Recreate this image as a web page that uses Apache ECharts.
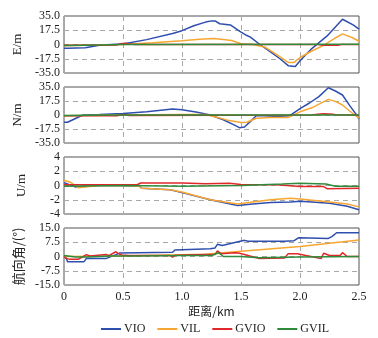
<!DOCTYPE html>
<html><head><meta charset="utf-8">
<script src="https://cdn.jsdelivr.net/npm/echarts@6/dist/echarts.min.js"></script>
<style>html,body{margin:0;padding:0;background:#fff}#c{width:378px;height:338px}</style>
</head><body><div id="c"></div>
<script>
// ---- data (distance km / value) ----
const seriesNames = ['VIO','VIL','GVIO','GVIL'];
const xTicks = [0,0.5,1.0,1.5,2.0,2.5];
const panelNames = ['E/m','N/m','U/m','航向角/(°)'];

// E panel
const E_VIO_x = [0,0.03,0.18,0.3,0.4,0.5,0.7,0.92,1.0,1.1,1.2,1.25,1.28,1.32,1.41,1.49,1.55,1.58,1.66,1.75,1.83,1.9,1.96,2.0,2.1,2.23,2.36,2.45,2.5];
const E_VIO_y = [-4.5,-4.5,-4,-1,0,0.5,6,13.5,17,23,27.5,29,29,25.5,24,16,11,9,0,-9,-17.5,-26,-27,-20,-5,10.5,31,24,19];
const E_VIL_x = [0,0.2,0.35,0.5,0.75,1.0,1.15,1.27,1.35,1.42,1.5,1.6,1.7,1.8,1.9,1.95,2.0,2.1,2.2,2.3,2.36,2.45,2.5];
const E_VIL_y = [-1.5,-1,-0.3,0,2,4.5,6.5,7.5,6,5,1,0,-3,-12,-22,-22,-16,-8,-1,8,13,8,4];
const E_GVIO_x = [0,0.45,0.48,0.52,0.56,0.6,1.0,2.0,2.15,2.2,2.32,2.35,2.5];
const E_GVIO_y = [-1,-0.5,1,1.5,0.5,0,0,0,0,-0.8,-0.8,0,0];
const E_GVIL_x = [0,0.3,0.5,2.5];
const E_GVIL_y = [-1.2,-0.5,0,0.2];

// N panel
const N_VIO_x = [0,0.03,0.16,0.3,0.5,0.7,0.92,1.0,1.13,1.24,1.35,1.45,1.49,1.53,1.58,1.63,1.7,1.8,1.91,1.96,2.0,2.08,2.16,2.24,2.3,2.36,2.42,2.48,2.5];
const N_VIO_y = [-9,-9,0,0.5,2,4,7.5,6.5,3.4,0,-6,-13,-16,-15,-8,-1,-1,-2,-1,4,8,15,23,34,30,25,12,0,-5];
const N_VIL_x = [0,0.5,1.0,1.2,1.3,1.4,1.5,1.55,1.63,1.75,1.9,1.96,2.0,2.1,2.24,2.3,2.36,2.42,2.5];
const N_VIL_y = [-1,0,0.5,0.5,-3,-7,-9.5,-9,-4,-3,-3,1,4,9,19.5,17,12.5,5,-4];
const N_GVIO_x = [0,0.45,0.5,0.55,2.1,2.15,2.2,2.28,2.3,2.5];
const N_GVIO_y = [-1,-1,0.5,-0.5,0,1,1.5,1,0,0];
const N_GVIL_x = [0,0.4,2.5];
const N_GVIL_y = [-0.5,0,0];

// U panel
const U_VIO_x = [0,0.1,0.3,0.5,0.64,0.66,0.9,1.0,1.24,1.47,1.6,1.75,1.92,2.0,2.1,2.25,2.4,2.5];
const U_VIO_y = [0.4,-0.2,0,0,-0.1,-0.4,-0.6,-1.0,-2.0,-2.8,-2.6,-2.4,-2.3,-2.2,-2.3,-2.5,-2.9,-3.4];
const U_VIL_x = [0,0.05,0.12,0.3,0.5,0.64,0.66,0.9,1.0,1.24,1.47,1.6,1.75,1.92,2.0,2.25,2.4,2.5];
const U_VIL_y = [0.7,0.5,-0.3,0,0,-0.1,-0.4,-0.6,-0.9,-2.0,-2.6,-2.3,-2.0,-1.8,-1.9,-2.3,-2.6,-3.0];
const U_GVIO_x = [0,0.3,0.62,0.65,1.0,1.2,1.4,1.5,1.8,2.0,2.2,2.23,2.5];
const U_GVIO_y = [0.1,0.1,0.1,0.35,0.35,0.25,0.3,0.15,0.1,-0.15,-0.15,-0.45,-0.4];
const U_GVIL_x = [0,0.5,1.0,1.5,1.85,2.0,2.22,2.3,2.5];
const U_GVIL_y = [-0.1,0,-0.1,0,0.2,0.3,0.2,-0.1,-0.1];

// Heading panel
const H_VIO_x = [0,0.02,0.03,0.17,0.19,0.36,0.44,0.47,0.92,0.94,1.24,1.28,1.3,1.34,1.53,1.56,1.87,1.95,1.99,2.24,2.27,2.31,2.5];
const H_VIO_y = [0,-1,-2.7,-2.7,-1,-1,1,1.8,2.2,3.4,4.1,4.5,6.4,5.8,8.5,8.0,8,8.3,9.9,9.5,10.5,12.5,12.5];
const H_VIL_x = [0,0.5,1.0,1.2,1.5,2.0,2.5];
const H_VIL_y = [0,0.3,0.9,1.2,2.8,5.2,8.7];
const H_GVIO_x = [0,0.02,0.05,0.12,0.15,0.19,0.22,0.36,0.38,0.44,0.46,0.49,0.55,0.9,0.92,0.94,1.2,1.28,1.3,1.33,1.45,1.48,1.56,1.65,1.87,1.9,1.98,2.05,2.18,2.2,2.25,2.34,2.36,2.4,2.5];
const H_GVIO_y = [0,-1,-1.5,-1.5,-0.5,1,0.3,1,0.5,2.5,1.5,0.8,0.5,0.5,-0.3,0.6,1,1,3,1.5,2,1.8,0.5,-1,-0.8,1.5,1.5,0.5,-1,1.7,0.5,0.5,2,0,0];
const H_GVIL_x = [0,0.1,0.2,0.4,0.6,1.0,1.25,1.31,1.35,1.5,1.65,2.0,2.5];
const H_GVIL_y = [0.5,-0.3,-0.3,0.3,0.2,0.5,0.5,2,0,0,-0.7,-0.3,0];

const yTicksE = [-35,-17.5,0,17.5,35];
const yTicksN = [-35,-17.5,0,17.5,35];
const yTicksU = [-4,-2,0,2,4];
const yTicksH = [-15,-7.5,0,7.5,15];

// ---- build ----
const colors = ['#2f4fae','#f7a731','#e0282a','#2e8b3c'];
const zip = (xs, ys) => xs.map((x,i)=>[x,ys[i]]);
const panels = [
  {ticks:yTicksE, dec:1, data:[[E_VIO_x,E_VIO_y],[E_VIL_x,E_VIL_y],[E_GVIO_x,E_GVIO_y],[E_GVIL_x,E_GVIL_y]]},
  {ticks:yTicksN, dec:1, data:[[N_VIO_x,N_VIO_y],[N_VIL_x,N_VIL_y],[N_GVIO_x,N_GVIO_y],[N_GVIL_x,N_GVIL_y]]},
  {ticks:yTicksU, dec:0, data:[[U_VIO_x,U_VIO_y],[U_VIL_x,U_VIL_y],[U_GVIO_x,U_GVIO_y],[U_GVIL_x,U_GVIL_y]]},
  {ticks:yTicksH, dec:1, data:[[H_VIO_x,H_VIO_y],[H_VIL_x,H_VIL_y],[H_GVIO_x,H_GVIO_y],[H_GVIL_x,H_GVIL_y]]}
];
const tops = [16,87,157,228];
const heights = [57,56,57,57];
const serif = '"Liberation Serif","DejaVu Serif",serif';
const grid=[], xAxis=[], yAxis=[], series=[];
panels.forEach((p,k)=>{
  grid.push({left:64,right:19,top:tops[k],height:heights[k],show:true,borderColor:'#555',borderWidth:1,backgroundColor:'transparent'});
  const last = k===3;
  xAxis.push({type:'value',gridIndex:k,min:0,max:2.5,interval:0.5,
    axisLine:{show:false},axisTick:{show:false},
    axisLabel:{show:last,fontFamily:serif,fontSize:12,color:'#222',margin:6,formatter:v=>v===0?'0':v.toFixed(1)},
    splitLine:{show:true,lineStyle:{color:'#a8a8a8',type:[5,4],width:1}},
    name:last?'距离/km':'',nameLocation:'middle',nameGap:20,
    nameTextStyle:{fontFamily:'"Noto Sans CJK SC",'+serif,fontSize:12,color:'#222'}});
  const t=p.ticks;
  yAxis.push({type:'value',gridIndex:k,min:t[0],max:t[4],interval:t[1]-t[0],
    axisLine:{show:false},axisTick:{show:false},
    axisLabel:{fontFamily:serif,fontSize:12,color:'#222',margin:4,
      formatter:v=>v===0?'0':v.toFixed(p.dec)},
    splitLine:{show:true,lineStyle:{color:'#a8a8a8',type:[5,4],width:1}},
    name:panelNames[k],nameLocation:'middle',nameGap:k===3?33:36,nameRotate:90,
    nameTextStyle:{fontFamily:(k===3?'"Noto Sans CJK SC",':'')+serif,fontSize:13,color:'#222'}});
  p.data.forEach((d,s)=>{
    series.push({name:seriesNames[s],type:'line',xAxisIndex:k,yAxisIndex:k,
      data:zip(d[0],d[1]),showSymbol:false,symbol:'none',
      lineStyle:{width:1.5,color:colors[s]},itemStyle:{color:colors[s]},
      animation:false,z:2+s});
  });
});
const chart = echarts.init(document.getElementById('c'),null,{renderer:'canvas'});
chart.setOption({
  animation:false,
  color:colors,
  grid,xAxis,yAxis,series,
  legend:{data:seriesNames,top:318,left:96,icon:'rect',itemWidth:20,itemHeight:2,itemGap:12,
    textStyle:{fontFamily:serif,fontSize:12,color:'#222',padding:[0,0,0,-2]}}
});
</script></body></html>
